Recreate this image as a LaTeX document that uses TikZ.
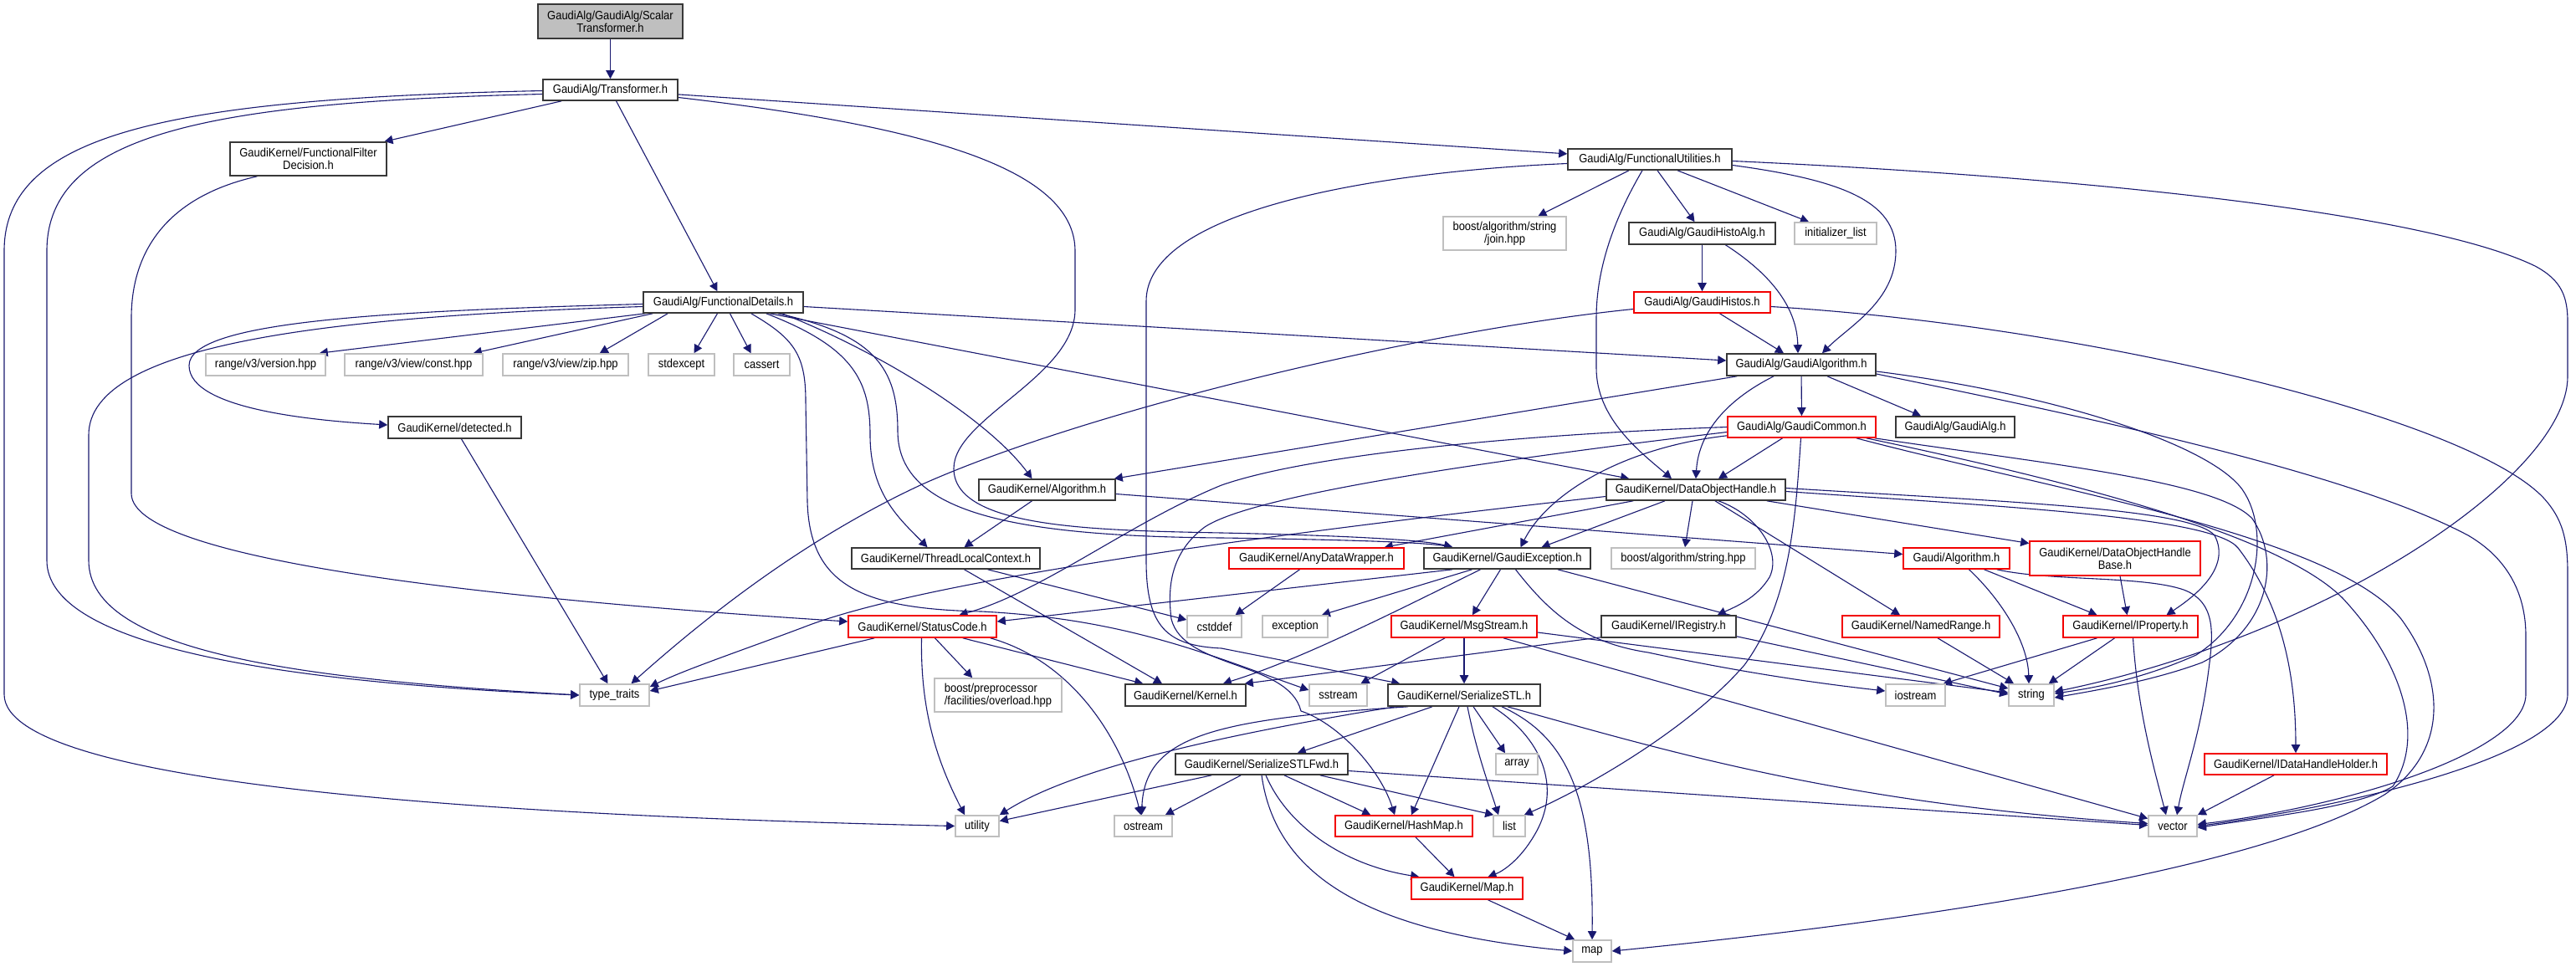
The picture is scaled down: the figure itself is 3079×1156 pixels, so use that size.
\documentclass[tikz,border=0pt]{standalone}
\usepackage{fontspec}
\setmainfont{Liberation Sans}[FakeStretch=0.9]
\usetikzlibrary{arrows.meta,calc}
\pgfdeclarelayer{bg}
\pgfsetlayers{bg,main}
\definecolor{edgecol}{HTML}{191970}
\definecolor{graybox}{HTML}{BFBFBF}
\newcommand\dxfont{\fontsize{7.2pt}{7.6pt}\selectfont}
\tikzset{
  bx/.style={draw=black!78, line width=0.8pt, fill=white, inner sep=0pt, align=center, font=\dxfont, text=black},
  bxr/.style={bx, draw=red!95!black},
  bxg/.style={bx, draw=graybox},
  bxs/.style={bx, fill=graybox},
  e/.style={draw=edgecol, line width=0.55pt, -{Triangle[length=5pt,width=5.2pt]}},
}
\begin{document}
\begin{tikzpicture}[x=0.5pt,y=-0.5pt]
\useasboundingbox (0,0) rectangle (3079,1156);
% ---------------- nodes ----------------
\node[bxs, minimum width=86.5pt, minimum height=20.5pt] (st) at (729.5,25.5) {GaudiAlg/GaudiAlg/Scalar\\Transformer.h};
\node[bx, minimum width=80.5pt, minimum height=12.5pt] (tr) at (729.5,107.5) {GaudiAlg/Transformer.h};
\node[bx, minimum width=93.5pt, minimum height=20pt] (ffd) at (368.5,190) {GaudiKernel/FunctionalFilter\\Decision.h};
\node[bx, minimum width=98pt, minimum height=12.5pt] (fu) at (1972,190.5) {GaudiAlg/FunctionalUtilities.h};
\node[bxg, minimum width=73.5pt, minimum height=20pt] (join) at (1798.5,279) {boost/algorithm/string\\/join.hpp};
\node[bx, minimum width=87.5pt, minimum height=13pt] (gha) at (2034.5,279) {GaudiAlg/GaudiHistoAlg.h};
\node[bxg, minimum width=49pt, minimum height=13pt] (il) at (2194,279) {initializer\_list};
\node[bx, minimum width=95.5pt, minimum height=12.5pt] (fd) at (864.5,361.5) {GaudiAlg/FunctionalDetails.h};
\node[bxr, minimum width=81.5pt, minimum height=12.5pt] (gh) at (2034.5,361.5) {GaudiAlg/GaudiHistos.h};
\node[bxg, minimum width=71.5pt, minimum height=13pt] (rv) at (317.5,436) {range/v3/version.hpp};
\node[bxg, minimum width=82.5pt, minimum height=13pt] (rc) at (494.5,436) {range/v3/view/const.hpp};
\node[bxg, minimum width=75pt, minimum height=13pt] (rz) at (676,436) {range/v3/view/zip.hpp};
\node[bxg, minimum width=39.5pt, minimum height=13pt] (se) at (814.5,436) {stdexcept};
\node[bxg, minimum width=33.5pt, minimum height=13pt] (ca) at (910.5,436) {cassert};
\node[bx, minimum width=89pt, minimum height=13pt] (ga) at (2153,436) {GaudiAlg/GaudiAlgorithm.h};
\node[bx, minimum width=79.5pt, minimum height=13pt] (det) at (543.5,511) {GaudiKernel/detected.h};
\node[bxr, minimum width=88.5pt, minimum height=12.5pt] (gc) at (2153.5,510.5) {GaudiAlg/GaudiCommon.h};
\node[bx, minimum width=71pt, minimum height=12.5pt] (galg) at (2337,510.5) {GaudiAlg/GaudiAlg.h};
\node[bx, minimum width=81.5pt, minimum height=12.5pt] (kalg) at (1251.5,585.5) {GaudiKernel/Algorithm.h};
\node[bx, minimum width=107pt, minimum height=12.5pt] (doh) at (2027,585.5) {GaudiKernel/DataObjectHandle.h};
\node[bx, minimum width=112.5pt, minimum height=12.5pt] (tlc) at (1130.5,667.5) {GaudiKernel/ThreadLocalContext.h};
\node[bxr, minimum width=104.5pt, minimum height=12.5pt] (adw) at (1573.5,667.5) {GaudiKernel/AnyDataWrapper.h};
\node[bx, minimum width=99.5pt, minimum height=12.5pt] (gex) at (1801.5,667.5) {GaudiKernel/GaudiException.h};
\node[bxg, minimum width=86pt, minimum height=12.5pt] (bas) at (2012,667.5) {boost/algorithm/string.hpp};
\node[bxr, minimum width=63.5pt, minimum height=12.5pt] (galgo) at (2338.5,667.5) {Gaudi/Algorithm.h};
\node[bxr, minimum width=102pt, minimum height=20.5pt] (dohb) at (2528,667.5) {GaudiKernel/DataObjectHandle\\Base.h};
\node[bxr, minimum width=88.5pt, minimum height=13pt] (sc) at (1102.5,749) {GaudiKernel/StatusCode.h};
\node[bxg, minimum width=32.5pt, minimum height=13pt] (cstd) at (1451.5,749) {cstddef};
\node[bxg, minimum width=39pt, minimum height=13pt] (exc) at (1548,749) {exception};
\node[bxr, minimum width=87pt, minimum height=13pt] (ms) at (1750,749) {GaudiKernel/MsgStream.h};
\node[bx, minimum width=80.5pt, minimum height=13pt] (ireg) at (1994.5,749) {GaudiKernel/IRegistry.h};
\node[bxr, minimum width=94pt, minimum height=13pt] (nr) at (2296,749) {GaudiKernel/NamedRange.h};
\node[bxr, minimum width=80.5pt, minimum height=13pt] (ip) at (2546.5,749) {GaudiKernel/IProperty.h};
\node[bxg, minimum width=41.5pt, minimum height=13pt] (tt) at (734.5,831) {type\_traits};
\node[bxg, minimum width=76pt, minimum height=20pt, align=left] (bpp) at (1193,831) {boost/preprocessor\\/facilities/overload.hpp};
\node[bx, minimum width=72pt, minimum height=13pt] (ker) at (1417,831) {GaudiKernel/Kernel.h};
\node[bxg, minimum width=34.5pt, minimum height=13pt] (ss) at (1599.5,831) {sstream};
\node[bx, minimum width=91pt, minimum height=13pt] (sstl) at (1750,831) {GaudiKernel/SerializeSTL.h};
\node[bxg, minimum width=35.5pt, minimum height=13pt] (ios) at (2289.5,831) {iostream};
\node[bxg, minimum width=27pt, minimum height=13pt] (str) at (2428,831) {string};
\node[bx, minimum width=103pt, minimum height=12.5pt] (fwd) at (1508,913.5) {GaudiKernel/SerializeSTLFwd.h};
\node[bxg, minimum width=25pt, minimum height=12.5pt] (arr) at (1813,913.5) {array};
\node[bxr, minimum width=109pt, minimum height=12.5pt] (idh) at (2744,913.5) {GaudiKernel/IDataHandleHolder.h};
\node[bxg, minimum width=26pt, minimum height=12.5pt] (ut) at (1168,987.5) {utility};
\node[bxg, minimum width=34.5pt, minimum height=12.5pt] (os) at (1366.5,987.5) {ostream};
\node[bxr, minimum width=82pt, minimum height=12.5pt] (hm) at (1678,987.5) {GaudiKernel/HashMap.h};
\node[bxg, minimum width=19pt, minimum height=12.5pt] (lst) at (1804,987.5) {list};
\node[bxg, minimum width=29pt, minimum height=12.5pt] (vec) at (2597,987.5) {vector};
\node[bxr, minimum width=66.5pt, minimum height=13pt] (maph) at (1753.5,1062) {GaudiKernel/Map.h};
\node[bxg, minimum width=23pt, minimum height=13pt] (map) at (1903,1137) {map};
% ---------------- edges ----------------
\begin{pgfonlayer}{bg}
\fill[white] (0,0) rectangle (3079,1156);
% ScalarTransformer / Transformer
\draw[e] (st) -- (tr);
\draw[e] (tr) -- (ffd);
\draw[e] (tr) -- (fd);
\draw[e] (tr) -- (fu);
\draw[e] ($(tr.west)+(0,1)$) .. controls (200,118) and (5,160) .. (5,300) -- (5,830) .. controls (5,940) and (600,975) .. (ut.west);
\draw[e] ($(tr.west)+(0,5)$) .. controls (250,122) and (56,160) .. (56,300) -- (56,670) .. controls (56,770) and (320,815) .. (tt.west);
\draw[e] ($(tr.east)+(0,9)$) .. controls (1100,150) and (1285,200) .. (1285,300) -- (1285,370) .. controls (1285,450) and (1140,500) .. (1140,560) .. controls (1140,630) and (1300,634) .. (1460,637) .. controls (1600,640) and (1700,645) .. ($(gex.north west)+(35,0)$);
% FunctionalFilterDecision
\draw[e] ($(ffd.south)+(-61,0)$) .. controls (200,235) and (157,300) .. (157,380) -- (157,590) .. controls (157,675) and (650,720) .. ($(sc.west)+(0,-6)$);
% FunctionalDetails
\draw[e] ($(fd.south west)+(3,0)$) -- ($(rv.north east)+(-8,0)$);
\draw[e] ($(fd.south west)+(12,0)$) -- ($(rc.north east)+(-12,0)$);
\draw[e] ($(fd.south west)+(30,0)$) -- ($(rz.north east)+(-35,0)$);
\draw[e] ($(fd.south)+(-7,0)$) -- ($(se.north)+(15,0)$);
\draw[e] ($(fd.south)+(8,0)$) -- ($(ca.north)+(-13,0)$);
\draw[e] ($(fd.west)+(0,2)$) .. controls (450,372) and (226,385) .. (226,437) .. controls (226,490) and (380,503) .. ($(det.west)+(0,-3)$);
\draw[e] ($(fd.west)+(0,5)$) .. controls (400,378) and (106,410) .. (106,520) -- (106,670) .. controls (106,780) and (360,812) .. (tt.west);
\draw[e] ($(fd.east)+(0,5)$) -- ($(ga.west)+(0,-5)$);
\draw[e] ($(fd.south east)+(-41,0)$) -- ($(doh.north west)+(28,0)$);
\draw[e] ($(fd.south east)+(-26,0)$) .. controls (1050,420) and (1180,500) .. ($(kalg.north)+(-18,0)$);
\draw[e] ($(fd.south east)+(-45,0)$) .. controls (1020,415) and (1040,455) .. (1040,520) .. controls (1040,590) and (1075,620) .. ($(tlc.north)+(-22,0)$);
\draw[e] ($(fd.south east)+(-31,0)$) .. controls (1045,400) and (1073,440) .. (1073,515) .. controls (1073,610) and (1200,641) .. (1460,643) .. controls (1600,645) and (1700,648) .. ($(gex.north west)+(35,0)$);
\draw[e] ($(fd.south east)+(-63,0)$) .. controls (950,405) and (963,425) .. (963,480) -- (965,600) .. controls (968,700) and (1030,728) .. (1173,731) .. controls (1350,740) and (1450,785) .. ($(ss.west)+(0,-6)$);
% FunctionalUtilities
\draw[e] ($(fu.south)+(-25,0)$) -- ($(join.north)+(40,0)$);
\draw[e] ($(fu.south)+(9,0)$) -- ($(gha.north)+(-9,0)$);
\draw[e] ($(fu.south)+(33,0)$) -- ($(il.north)+(-32,0)$);
\draw[e] ($(fu.east)+(0,7)$) .. controls (2200,215) and (2266,240) .. (2266,300) .. controls (2266,360) and (2210,390) .. ($(ga.north)+(25,0)$);
\draw[e] ($(fu.south)+(-9,0)$) .. controls (1930,260) and (1908,320) .. (1908,380) -- (1908,440) .. controls (1908,500) and (1960,540) .. ($(doh.north)+(-29,0)$);
\draw[e] ($(fu.west)+(0,5)$) .. controls (1650,205) and (1370,250) .. (1370,360) -- (1370,670) .. controls (1370,750) and (1395,772) .. (1460,775) -- ($(sstl.north west)+(15,0)$);
\draw[e] ($(fu.east)+(0,2)$) .. controls (2500,212) and (2900,255) .. (3030,318) .. controls (3062,335) and (3069,355) .. (3069,385) -- (3069,450) .. controls (3069,570) and (2780,760) .. ($(str.east)+(0,-4)$);
% GaudiHistoAlg / GaudiHistos
\draw[e] (gha) -- (gh);
\draw[e] ($(gha.south)+(28,0)$) .. controls (2120,330) and (2148,370) .. ($(ga.north)+(-4,0)$);
\draw[e] ($(gh.south)+(21,0)$) -- ($(ga.north)+(-21,0)$);
\draw[e] ($(gh.west)+(0,8)$) .. controls (1700,395) and (1300,490) .. (1100,580) .. controls (950,650) and (830,750) .. ($(tt.north)+(20,0)$);
\draw[e] ($(gh.east)+(0,5)$) .. controls (2500,390) and (2950,500) .. (3040,595) .. controls (3063,620) and (3069,645) .. (3069,685) -- (3069,830) .. controls (3069,905) and (2800,965) .. (vec.east);
% GaudiAlgorithm
\draw[e] (ga) -- (gc);
\draw[e] ($(ga.south)+(31,0)$) -- ($(galg.north)+(-41,0)$);
\draw[e] ($(ga.south west)+(13,0)$) -- ($(kalg.north east)+(-2,0)$);
\draw[e] ($(ga.south)+(-33,0)$) .. controls (2060,480) and (2030,520) .. (doh.north);
\draw[e] ($(ga.east)+(0,8)$) .. controls (2450,470) and (2640,530) .. (2680,585) .. controls (2715,635) and (2700,735) .. (2625,783) .. controls (2560,812) and (2500,823) .. ($(str.east)+(0,-2)$);
\draw[e] ($(ga.east)+(0,11)$) .. controls (2450,490) and (2800,560) .. (2950,640) .. controls (3005,672) and (3019,720) .. (3019,760) -- (3019,830) .. controls (3019,900) and (2800,965) .. ($(vec.east)+(0,-2)$);
% GaudiCommon
\draw[e] ($(gc.south)+(-23,0)$) -- ($(doh.north)+(27,0)$);
\draw[e] ($(gc.south)+(-1,0)$) .. controls (2146,620) and (2140,720) .. (2085,795) .. controls (2020,870) and (1900,940) .. ($(lst.north east)+(-2,0)$);
\draw[e] (gc.west) .. controls (1800,520) and (1560,545) .. (1460,580) .. controls (1350,625) and (1245,708) .. ($(sc.north)+(44,0)$);
\draw[e] ($(gc.west)+(0,6)$) .. controls (1800,548) and (1500,590) .. (1440,630) .. controls (1400,660) and (1395,700) .. (1400,740) .. controls (1415,800) and (1540,790) .. (1555,850) .. controls (1600,865) and (1650,920) .. ($(hm.north)+(-11,0)$);
\draw[e] ($(gc.south west)+(0,-3)$) .. controls (1940,535) and (1850,590) .. ($(gex.north)+(16,0)$);
\draw[e] ($(gc.south east)+(-2,0)$) .. controls (2450,555) and (2650,575) .. (2692,620) .. controls (2727,670) and (2712,752) .. (2632,792) .. controls (2570,815) and (2500,826) .. ($(str.east)+(0,3)$);
\draw[e] ($(gc.south east)+(-12,0)$) .. controls (2450,570) and (2720,635) .. (2800,715) .. controls (2870,790) and (2900,880) .. (2860,940) .. controls (2820,965) and (2700,978) .. ($(vec.east)+(0,2)$);
\draw[e] ($(gc.south east)+(-24,0)$) .. controls (2450,585) and (2790,640) .. (2870,740) .. controls (2925,815) and (2925,900) .. (2850,950) .. controls (2700,1040) and (2300,1100) .. (map.east);
% GaudiKernel/Algorithm
\draw[e] ($(kalg.south)+(-18,0)$) -- ($(tlc.north)+(22,0)$);
\draw[e] ($(kalg.east)+(0,5)$) -- ($(galgo.west)+(0,-5)$);
% ThreadLocalContext, AnyDataWrapper
\draw[e] ($(tlc.south)+(22,0)$) -- ($(ker.north)+(-28,0)$);
\draw[e] ($(tlc.south)+(50,0)$) -- ($(cstd.west)+(0,-8)$);
\draw[e] ($(adw.south)+(-20,0)$) -- ($(cstd.north)+(25,0)$);
% GaudiException
\draw[e] ($(gex.south)+(-42,0)$) -- ($(exc.north east)+(-8,0)$);
\draw[e] ($(gex.south)+(-8,0)$) -- ($(ms.north)+(10,0)$);
\draw[e] ($(gex.south)+(-32,0)$) .. controls (1650,740) and (1550,790) .. ($(ker.north east)+(-28,0)$);
\draw[e] ($(gex.south west)+(35,0)$) -- ($(sc.east)+(0,-6)$);
\draw[e] ($(gex.south)+(10,0)$) .. controls (1850,730) and (1890,768) .. (1970,780) .. controls (2100,808) and (2200,820) .. ($(ios.west)+(0,-5)$);
\draw[e] ($(gex.south east)+(-40,0)$) -- ($(str.west)+(0,-8)$);
% MsgStream
\draw[e] ($(ms.south)+(-23,0)$) -- ($(ss.north)+(27,0)$);
\draw[e] (ms) -- (sstl);
\draw[e] ($(ms.east)+(0,7)$) -- ($(str.west)+(0,-3)$);
\draw[e] ($(ms.south)+(47,0)$) -- ($(vec.west)+(0,-9)$);
% IRegistry, NamedRange
\draw[e] ($(ireg.south west)+(0,-1)$) -- ($(ker.north east)+(-2,0)$);
\draw[e] ($(ireg.south east)+(0,-2)$) -- ($(str.west)+(0,-1)$);
\draw[e] ($(nr.south)+(20,0)$) -- ($(str.north)+(-21,0)$);
% Gaudi/Algorithm
\draw[e] ($(galgo.south)+(15,0)$) .. controls (2395,720) and (2424,770) .. ($(str.north)+(-3,0)$);
\draw[e] ($(galgo.south)+(33,0)$) -- ($(ip.north)+(-40,0)$);
\draw[e] ($(galgo.south east)+(-16,0)$) .. controls (2450,695) and (2560,688) .. (2610,705) .. controls (2650,720) and (2645,760) .. (2640,800) .. controls (2630,880) and (2610,930) .. ($(vec.north)+(5,0)$);
% DataObjectHandleBase, IProperty, IDataHandleHolder
\draw[e] ($(dohb.south)+(6,0)$) -- ($(ip.north)+(-4,0)$);
\draw[e] ($(ip.south)+(-40,0)$) -- ($(ios.north east)+(-3,0)$);
\draw[e] ($(ip.south)+(-19,0)$) -- ($(str.north east)+(-7,0)$);
\draw[e] ($(ip.south)+(3,0)$) .. controls (2555,850) and (2575,920) .. ($(vec.north)+(-8,0)$);
\draw[e] ($(idh.south)+(-26,0)$) -- (vec.north east);
% DataObjectHandle
\draw[e] ($(doh.south west)+(33,0)$) -- ($(adw.north east)+(-24,0)$);
\draw[e] ($(doh.south)+(-37,0)$) -- ($(gex.north)+(41,0)$);
\draw[e] ($(doh.south)+(-4,0)$) -- ($(bas.north)+(2,0)$);
\draw[e] ($(doh.south)+(27,0)$) .. controls (2100,615) and (2130,660) .. (2115,690) .. controls (2100,715) and (2075,725) .. ($(ireg.north east)+(-23,0)$);
\draw[e] ($(doh.south)+(23,0)$) -- ($(nr.north)+(-25,0)$);
\draw[e] ($(doh.south east)+(-23,0)$) -- ($(dohb.west)+(0,-18)$);
\draw[e] ($(doh.east)+(0,-2)$) .. controls (2400,600) and (2620,608) .. (2647,640) .. controls (2668,680) and (2620,715) .. ($(ip.north)+(43,0)$);
\draw[e] ($(doh.east)+(0,2)$) .. controls (2400,606) and (2645,618) .. (2675,655) .. controls (2725,720) and (2744,800) .. (idh.north);
\draw[e] ($(doh.west)+(0,8)$) .. controls (1500,640) and (1100,695) .. (960,750) .. controls (880,780) and (820,800) .. ($(tt.east)+(0,-10)$);
% detected
\draw[e] ($(det.south)+(8,0)$) -- ($(tt.north)+(-8,0)$);
% StatusCode
\draw[e] ($(sc.south west)+(32,0)$) -- ($(tt.east)+(0,-5)$);
\draw[e] ($(sc.south)+(15,0)$) -- ($(bpp.north west)+(46,0)$);
\draw[e] ($(sc.south east)+(-41,0)$) -- ($(ker.north west)+(22,0)$);
\draw[e] ($(sc.south)+(-1,0)$) .. controls (1100,850) and (1120,910) .. ($(ut.north)+(-15,0)$);
\draw[e] ($(sc.south east)+(-8,0)$) .. controls (1280,790) and (1340,880) .. ($(os.north)+(-3,0)$);
% SerializeSTL
\draw[e] ($(sstl.south)+(-38,0)$) -- ($(fwd.north east)+(-61,0)$);
\draw[e] ($(sstl.south)+(11,0)$) -- ($(arr.north)+(-14,0)$);
\draw[e] ($(sstl.south)+(-6,0)$) -- ($(hm.north)+(9,0)$);
\draw[e] ($(sstl.south)+(4,0)$) .. controls (1765,900) and (1780,940) .. ($(lst.north)+(-13,0)$);
\draw[e] ($(sstl.south)+(34,0)$) .. controls (1840,880) and (1870,940) .. (1833,1000) .. controls (1815,1030) and (1795,1042) .. ($(maph.north)+(25,0)$);
\draw[e] ($(sstl.south)+(45,0)$) .. controls (1872,880) and (1905,950) .. (map.north);
\draw[e] ($(sstl.south east)+(-40,0)$) .. controls (2000,900) and (2200,960) .. ($(vec.west)+(0,-3)$);
\draw[e] ($(sstl.south west)+(25,0)$) .. controls (1450,860) and (1368,880) .. ($(os.north)+(-2,0)$);
\draw[e] ($(sstl.south west)+(10,0)$) .. controls (1450,880) and (1280,920) .. (ut.north east);
% SerializeSTLFwd
\draw[e] ($(fwd.south west)+(44,0)$) -- ($(ut.east)+(0,-6)$);
\draw[e] ($(fwd.south west)+(79,0)$) -- ($(os.north east)+(-9,0)$);
\draw[e] ($(fwd.south)+(27,0)$) -- ($(hm.north west)+(43,0)$);
\draw[e] ($(fwd.south east)+(-34,0)$) -- ($(lst.north west)+(1,0)$);
\draw[e] ($(fwd.east)+(0,8)$) -- ($(vec.west)+(0,-1)$);
\draw[e] ($(fwd.south)+(5,0)$) .. controls (1540,990) and (1610,1035) .. ($(maph.north west)+(10,0)$);
\draw[e] (fwd.south) .. controls (1525,1050) and (1640,1115) .. (map.west);
% HashMap, Map
\draw[e] ($(hm.south)+(14,0)$) -- ($(maph.north)+(-15,0)$);
\draw[e] ($(maph.south)+(25,0)$) -- ($(map.north west)+(3,0)$);
\end{pgfonlayer}
\end{tikzpicture}
\end{document}
